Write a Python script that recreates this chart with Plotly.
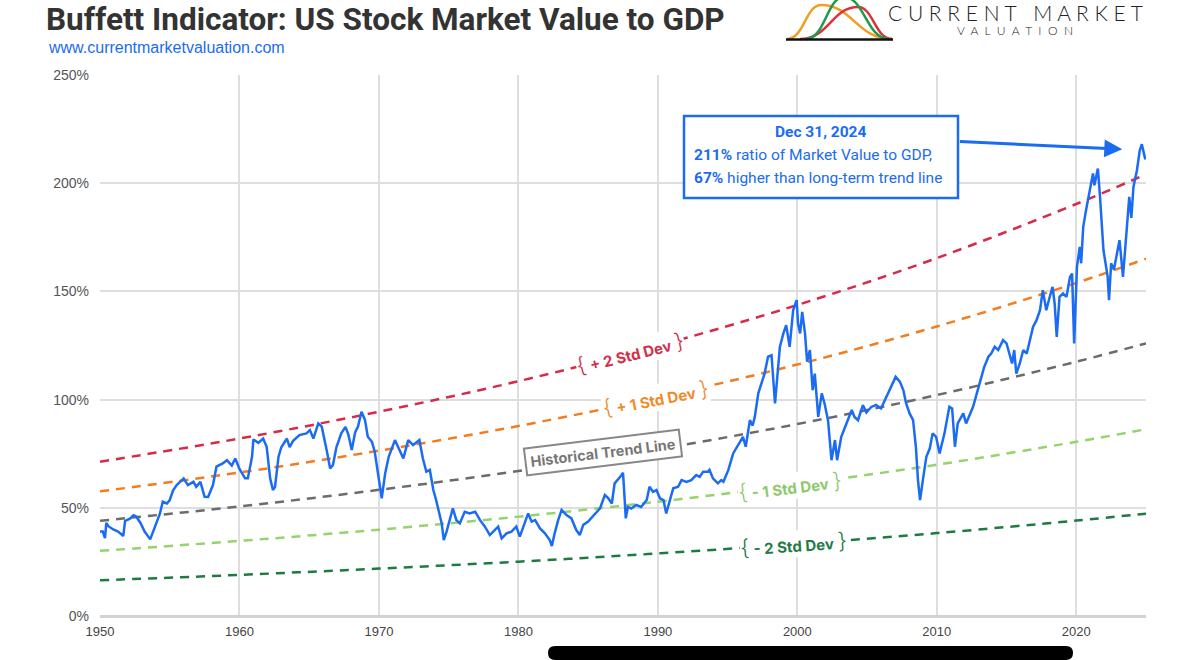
import plotly.graph_objects as go

# ---------------- data ----------------
years = [1950.0,1950.2,1950.36,1950.45,1950.6,1950.95,1951.3,1951.67,1951.8,1952.15,1952.4,1952.6,1952.9,1953.2,1953.6,1953.8,
 1954.05,1954.3,1954.5,1954.8,1955.0,1955.25,1955.5,1956.0,1956.3,1956.7,1956.9,1957.2,1957.5,1957.75,1958.1,1958.35,1958.8,
 1959.1,1959.45,1959.7,1960.0,1960.4,1960.6,1960.9,1961.0,1961.35,1961.7,1961.95,1962.2,1962.4,1962.55,1962.8,1963.0,1963.4,
 1963.6,1963.85,1964.3,1964.8,1965.05,1965.3,1965.65,1965.9,1966.25,1966.5,1966.7,1966.95,1967.3,1967.6,1967.8,1968.05,1968.3,
 1968.5,1968.75,1969.0,1969.2,1969.5,1969.7,
 1969.85,1970.2,1970.45,1970.7,1971.15,1971.5,1971.75,1972.1,1972.45,1972.9,1973.15,1973.4,1973.65,1973.9,1974.1,1974.5,1974.65,
 1974.85,1975.1,1975.3,1975.55,1975.8,1976.15,1976.5,1976.9,1977.25,1977.6,1977.95,1978.3,1978.55,1978.8,1979.15,1979.5,1979.85,
 1980.1,1980.45,1980.7,1980.95,1981.2,1981.55,1981.9,1982.25,1982.4,1982.6,1982.85,1983.1,1983.45,1983.8,1984.15,1984.4,1984.65,
 1985.0,1985.35,1985.85,1986.2,1986.45,1986.7,1986.9,1987.3,1987.5,1987.55,1987.7,1987.85,1988.1,1988.45,1988.8,1989.2,1989.4,
 1989.65,1989.9,1990.15,1990.4,1990.6,1990.85,1991.1,1991.45,1991.7,1992.05,1992.4,1992.75,1993.0,1993.25,1993.6,1993.7,1993.95,
 1994.3,1994.55,1994.7,
 1994.8,1995.05,1995.4,1995.75,1996.1,1996.3,1996.6,1996.8,1996.95,1997.2,1997.45,1997.65,1997.9,1998.15,1998.4,1998.55,1998.75,
 1999.0,1999.2,1999.45,1999.7,1999.95,2000.05,2000.2,2000.35,2000.55,2000.7,2000.9,2001.1,2001.25,2001.5,2001.75,2001.95,2002.2,
 2002.45,2002.7,2002.85,2003.15,2003.5,2003.9,2004.1,2004.35,2004.7,2004.95,2005.3,2005.65,2006.0,2006.4,2006.75,2007.05,2007.35,
 2007.6,2007.8,2008.05,2008.3,2008.5,2008.65,2008.8,2009.0,2009.25,2009.5,2009.7,2009.95,2010.2,2010.55,2010.9,2011.1,2011.3,
 2011.5,
 2011.9,2012.1,2012.4,2012.6,2013.0,2013.2,2013.4,2013.7,2013.9,2014.15,2014.4,2014.75,2015.0,2015.2,2015.4,2015.55,2015.7,
 2015.95,2016.2,2016.45,2016.7,2016.9,2017.15,2017.4,2017.6,2017.85,2018.1,2018.3,2018.45,2018.6,2018.8,2019.05,2019.3,2019.55,
 2019.7,2019.85,2020.05,2020.25,2020.35,2020.5,2020.7,2020.95,2021.2,2021.3,2021.4,2021.55,2021.7,2021.8,2021.95,2022.1,2022.25,
 2022.35,2022.5,2022.7,2023.1,2023.35,2023.6,2023.8,2023.95,2024.1,2024.35,2024.55,2024.7,2024.95]

ratio = [39,39,36,43,41.5,40,39,37,44,45,46.6,46,43,39,35.4,39,
 42.5,47.4,52.8,52,53.6,58.2,60.5,63.6,60.5,62,59.7,62,55.1,55,60.5,69,70.5,
 72,69.5,72.8,68,63.6,63.6,73.6,81.6,80,82,78.2,63.6,58.2,59.7,73.6,78,82,
 78,81,83.6,84.4,85.9,82,89,87.5,76.7,68.2,69.7,78,84.4,87.4,84,76.7,85,
 87.5,94.4,90.6,82.8,80.5,75.9,
 69.7,54.4,66,73.6,81.3,76.7,72.8,81.3,79,81.3,72.8,66.7,67.5,58.2,53.6,42.8,35.1,
 39,44.3,49.7,44.3,42.8,48.2,47.4,48.2,44.3,41.3,37.4,39.7,41.3,35.9,38.2,39,41.3,
 36.7,42.8,47.4,43.6,44.3,40.5,38.2,35.1,32.3,38.2,44.3,49,46.6,45.1,39.7,37.4,42.1,
 43.6,46,49.7,55.9,54.4,52,61.3,64.3,66.2,61.3,45.1,50.4,49.7,51.3,50.4,53.6,59.7,
 57.4,58.2,54.4,53.6,47.4,53.6,59,59.7,62.8,62,62.8,65.1,64.3,66.7,66.7,67.5,63.6,
 61.3,62.8,62,
 63.6,67.4,75.1,79,82.8,78.2,90.5,88,92,102.9,107.5,112,119.8,120.5,98.2,109,124.4,
 130.6,134.4,124.4,141.3,146,135.2,130.6,140.5,130.6,117.5,122.9,104.4,112,92,102.9,98.2,90.5,
 72,81.3,72,82.8,89,95.2,92,90.5,97.5,94,96.6,97.5,95.9,101.3,105.9,110.5,108.3,
 104.4,98.2,93.6,90.5,78.2,62.8,53.6,62.8,73.6,77.5,84.4,82.8,75.1,84.4,96.7,95.9,78.2,
 89,
 93.6,89,93.6,96.7,105.9,110.5,115.1,119.8,121.3,124.4,122.9,127.5,126,121.3,116.7,122.9,112,
 116.7,122.9,121.3,129,133.6,136.7,141.3,150.6,141.3,147.5,152.1,144.4,129,147.5,149,147.5,156.7,
 158.2,126,161.3,170.6,163,179.8,187.5,195.2,204.5,199,202,206.8,194,184.4,169,163,156.7,
 146,163,160,173.7,156.7,175.2,193.7,184,198.3,206,215,218,211]

band_years = [1950, 1960, 1970, 1980, 1990, 2000, 2010, 2020, 2025]
trend_line = [44.0, 50.6, 58.3, 67.0, 77.1, 88.7, 102.1, 117.5, 126.0]
plus2_sd = [71.3, 82.0, 94.4, 108.5, 124.9, 143.7, 165.4, 190.4, 204.1]
plus1_sd = [57.6, 66.3, 76.4, 87.8, 101.0, 116.2, 133.8, 153.9, 165.1]
minus1_sd = [30.1, 34.7, 39.9, 45.9, 52.8, 60.8, 69.9, 80.5, 86.3]
minus2_sd = [16.5, 19.0, 21.9, 25.1, 28.9, 33.3, 38.3, 44.1, 47.3]

x_ticks = [1950, 1960, 1970, 1980, 1990, 2000, 2010, 2020]
y_ticks = [0, 50, 100, 150, 200, 250]
y_tick_labels = ["0%", "50%", "100%", "150%", "200%", "250%"]

# ---------------- layout helpers ----------------
W, H = 1200, 660
L, R, T, B = 100, 54, 75, 44
PW, PH = W - L - R, H - T - B

def px(x):
    return (x - L) / PW

def py(y):
    return (T + PH - y) / PH

BLUE = "#1b6cf2"
RED = "#d62a48"
ORANGE = "#f27c1e"
GRAY = "#6b6b6b"
LGREEN = "#93d46e"
DGREEN = "#1e7a40"

fig = go.Figure()

bands = [
    (plus2_sd, RED), (plus1_sd, ORANGE), (trend_line, GRAY),
    (minus1_sd, LGREEN), (minus2_sd, DGREEN),
]
for vals, col in bands:
    fig.add_trace(go.Scatter(x=band_years, y=vals, mode="lines",
                             line=dict(color=col, width=2.5, dash="9px,7px", shape="spline"),
                             hoverinfo="skip", showlegend=False))

fig.add_trace(go.Scatter(x=years, y=ratio, mode="lines",
                         line=dict(color=BLUE, width=2.5), showlegend=False))

tick_font = dict(family="Liberation Sans Narrow, Arial Narrow, Liberation Sans, sans-serif", size=13, color="#444")
fig.update_xaxes(range=[1950, 2025], tickvals=x_ticks, showgrid=True, gridcolor="#dedede", gridwidth=1.5,
                 zeroline=False, showline=False, ticks="", tickfont=tick_font, fixedrange=True,
                 ticklabelstandoff=6)
fig.update_yaxes(range=[0, 250], tickvals=y_ticks, ticktext=y_tick_labels, showgrid=True, gridcolor="#dedede",
                 gridwidth=1.5, zeroline=True, zerolinecolor="#d2d2d2", zerolinewidth=2.5, showline=False,
                 ticks="", tickfont=dict(family="Liberation Sans, Arial, sans-serif", size=14, color="#555"),
                 ticklabelstandoff=10)

ann = []
shapes = []

# title + url
ann.append(dict(xref="paper", yref="paper", x=px(44), y=py(19), xanchor="left", yanchor="middle",
                text="<b>Buffett Indicator: US Stock Market Value to GDP</b>", showarrow=False,
                font=dict(family="Roboto, Liberation Sans, sans-serif", size=31.5, color="#333")))
ann.append(dict(xref="paper", yref="paper", x=px(46), y=py(47), xanchor="left", yanchor="middle",
                text="www.currentmarketvaluation.com", showarrow=False,
                font=dict(family="Liberation Sans, Arial, sans-serif", size=16, color=BLUE)))

# logo text
ann.append(dict(xref="paper", yref="paper", x=px(1015), y=py(12), xanchor="center", yanchor="middle",
                text="C U R R E N T &nbsp; M A R K E T", showarrow=False,
                font=dict(family="Lato, Open Sans, sans-serif", size=21, color="#222", weight=300)))
ann.append(dict(xref="paper", yref="paper", x=px(1015), y=py(30), xanchor="center", yanchor="middle",
                text="V &nbsp;A &nbsp;L &nbsp;U &nbsp;A &nbsp;T &nbsp;I &nbsp;O &nbsp;N", showarrow=False,
                font=dict(family="Lato, Open Sans, sans-serif", size=12, color="#222", weight=300)))

def bell(a, p, b, top, base):
    pts = [(a, base), (a + 0.5 * (p - a), base), (p - 0.45 * (p - a), top), (p, top),
           (p + 0.45 * (b - p), top), (b - 0.5 * (b - p), base), (b, base)]
    s = "M {:.5f},{:.5f} C ".format(px(pts[0][0]), py(pts[0][1]))
    s += " ".join("{:.5f},{:.5f}".format(px(x), py(y)) for x, y in pts[1:4])
    s += " C " + " ".join("{:.5f},{:.5f}".format(px(x), py(y)) for x, y in pts[4:])
    return s

for a, p, b, top, col in [(787, 821, 892, 5, "#f0a020"), (800, 858, 892, 7, "#e0303a"), (806, 844, 889, -3, "#1f9a48")]:
    shapes.append(dict(type="path", xref="paper", yref="paper", path=bell(a, p, b, top, 39),
                       line=dict(color=col, width=2.5)))
shapes.append(dict(type="line", xref="paper", yref="paper", x0=px(786), x1=px(893), y0=py(39.5), y1=py(39.5),
                   line=dict(color="#111", width=2.5)))

# info box
shapes.append(dict(type="rect", xref="paper", yref="paper", x0=px(684), x1=px(958), y0=py(198), y1=py(116),
                   line=dict(color=BLUE, width=2.5), fillcolor="white", layer="above"))
box_font = dict(family="Roboto, Liberation Sans, sans-serif", size=15.5, color=BLUE)
ann.append(dict(xref="paper", yref="paper", x=px(821), y=py(132), xanchor="center", yanchor="middle",
                text="<b>Dec 31, 2024</b>", showarrow=False, font=box_font))
ann.append(dict(xref="paper", yref="paper", x=px(692), y=py(155), xanchor="left", yanchor="middle",
                text="<b>211%</b> ratio of Market Value to GDP,", showarrow=False, font=box_font))
ann.append(dict(xref="paper", yref="paper", x=px(692), y=py(178), xanchor="left", yanchor="middle",
                text="<b>67%</b> higher than long-term trend line", showarrow=False, font=box_font))
# arrow
ann.append(dict(x=2023.3, y=215.7, ax=2011.55, ay=219.3, xref="x", yref="y", axref="x", ayref="y",
                text="", showarrow=True, arrowhead=2, arrowsize=1.2, arrowwidth=3, arrowcolor=BLUE,
                standoff=0, startstandoff=0))

# band labels
lab_font = "Inter, Liberation Sans, sans-serif"
def band_label(x, y, txt, col, ang, size=15):
    brace_l = "<span style='font-size:22px;font-weight:300'>{</span>"
    brace_r = "<span style='font-size:22px;font-weight:300'>}</span>"
    ann.append(dict(x=x, y=y, xref="x", yref="y", showarrow=False, textangle=ang,
                    text=brace_l + " <b>" + txt + "</b> " + brace_r,
                    font=dict(family=lab_font, size=size, color=col), bgcolor="white", borderpad=0))

band_label(1988.0, 121.5, "+ 2 Std Dev", "#d0304c", -14)
band_label(1989.8, 100.7, "+ 1 Std Dev", "#f08a28", -11)
band_label(1999.5, 60.0, "- 1 Std Dev", "#8cc96a", -7)
band_label(1999.7, 33.5, "- 2 Std Dev", "#237a44", -4)
ann.append(dict(x=1986.1, y=75.5, xref="x", yref="y", showarrow=False, textangle=-7,
                text="<b>Historical Trend Line</b>", font=dict(family=lab_font, size=14.5, color="#777"),
                bgcolor="white", bordercolor="#888", borderwidth=2, borderpad=4))

# black redaction bar at the bottom
shapes.append(dict(type="path", xref="paper", yref="paper",
                   path="M {a},{t} L {b},{t} Q {c},{t} {c},{m} Q {c},{bt} {b},{bt} L {a},{bt} Q {d},{bt} {d},{m} Q {d},{t} {a},{t} Z".format(
                       a=px(555), b=px(1066), c=px(1073), d=px(548), t=py(646), m=py(653), bt=py(660)),
                   fillcolor="black", line=dict(color="black", width=0)))

fig.update_layout(width=W, height=H, margin=dict(l=L, r=R, t=T, b=B), paper_bgcolor="white",
                  plot_bgcolor="white", annotations=ann, shapes=shapes, showlegend=False)

fig.write_html("out.html")
